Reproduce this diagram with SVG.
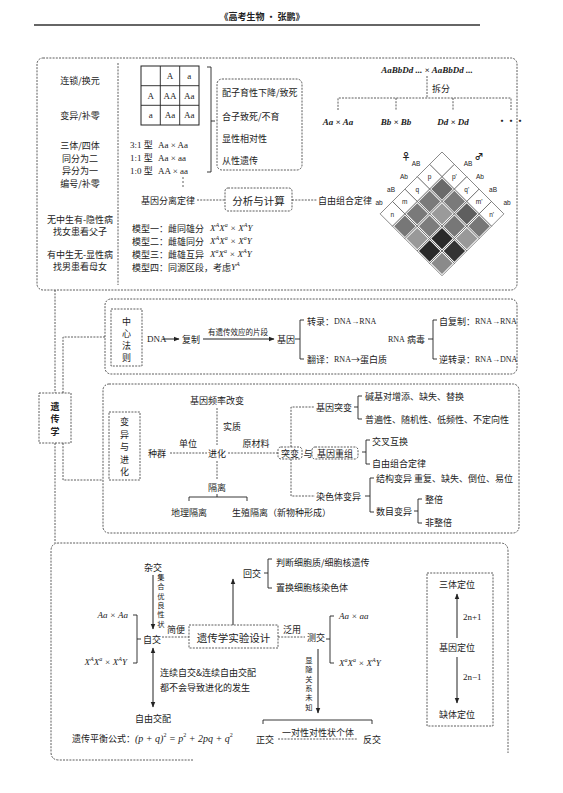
<svg xmlns="http://www.w3.org/2000/svg" width="563" height="793" viewBox="0 0 563 793">
<style>
text { font-family: "Noto Sans CJK SC", "Noto Sans", sans-serif; font-size: 9px; fill: #222; dominant-baseline: central; }
.c { text-anchor: middle; }
.e { text-anchor: end; }
.m { font-family: "Liberation Serif", "Noto Sans CJK SC", serif; font-style: italic; }
.r { font-family: "Liberation Serif", "Noto Sans CJK SC", serif; }
.sm { font-size: 7.5px; }
.big { font-size: 10.5px; }
.d { fill: none; stroke: #333; stroke-width: 0.8; stroke-dasharray: 2 1.2; }
.s { fill: none; stroke: #222; stroke-width: 0.9; }
.a { fill: none; stroke: #222; stroke-width: 1; marker-end: url(#ah); }
.a2 { fill: none; stroke: #222; stroke-width: 1; marker-end: url(#ah); marker-start: url(#ah); }
.cell { fill: #fff; stroke: #444; stroke-width: 0.6; }
.gl { font-family: "Liberation Sans", sans-serif; font-size: 6.5px; }
.vt { font-size: 7.3px; text-anchor: middle; }
</style>
<defs>
<marker id="ah" viewBox="0 0 10 10" refX="9" refY="5" markerWidth="6" markerHeight="6" markerUnits="userSpaceOnUse" orient="auto-start-reverse">
<path d="M0,1 L10,5 L0,9 z" fill="#222"/>
</marker>
</defs>
<rect width="563" height="793" fill="#fff"/>

<g id="header">
<text x="262" y="16" class="c" font-size="10" font-weight="bold">《高考生物 · 张鹏》</text>
<line x1="34" y1="25" x2="480" y2="25" stroke="#333" stroke-width="1.5"/>
</g>

<g id="connectors">
<path class="d" d="M55,290 V393"/>
<path class="d" d="M105,337 H63 V393"/>
<path class="d" d="M63,443 V480 H103"/>
<path class="d" d="M55,443 V543"/>
</g>

<g id="sec-top">
<rect class="d" x="37" y="58" width="480" height="232" rx="6"/>
<path class="d" d="M118,63 V285"/>
<text x="80" y="80" class="c">连锁/换元</text>
<text x="80" y="115" class="c">变异/补零</text>
<text x="80" y="145" class="c">三体/四体</text>
<text x="80" y="158" class="c">同分为二</text>
<text x="80" y="170.5" class="c">异分为一</text>
<text x="80" y="183" class="c">编号/补零</text>
<text x="80" y="219" class="c">无中生有-隐性病</text>
<text x="80" y="231.5" class="c">找女患看父子</text>
<text x="80" y="254" class="c">有中生无-显性病</text>
<text x="80" y="266.5" class="c">找男患看母女</text>

<g id="punnett">
<rect x="141" y="66" width="58" height="59" fill="none" stroke="#222" stroke-width="1"/>
<path class="s" d="M160.3,66 V125 M179.7,66 V125 M141,85.7 H199 M141,105.3 H199" stroke-width="0.7"/>
<text x="170" y="76" class="c r" font-size="7">A</text>
<text x="189.3" y="76" class="c r" font-size="7">a</text>
<text x="150.7" y="95.5" class="c r" font-size="7">A</text>
<text x="170" y="95.5" class="c r" font-size="7">AA</text>
<text x="189.3" y="95.5" class="c r" font-size="7">Aa</text>
<text x="150.7" y="115" class="c r" font-size="7">a</text>
<text x="170" y="115" class="c r" font-size="7">Aa</text>
<text x="189.3" y="115" class="c r" font-size="7">Aa</text>
</g>
<text x="130" y="145" class="r">3:1 型</text>
<text x="158" y="145" class="r" font-size="9.5">Aa  ×  Aa</text>
<text x="130" y="158" class="r">1:1 型</text>
<text x="158" y="158" class="r" font-size="9.5">Aa  ×  aa</text>
<text x="130" y="171" class="r">1:0 型</text>
<text x="158" y="171" class="r" font-size="9.5">AA  ×  aa</text>
<circle cx="183" cy="178" r="0.7" fill="#222"/>
<circle cx="183" cy="182" r="0.7" fill="#222"/>
<circle cx="183" cy="186" r="0.7" fill="#222"/>
<path class="s" d="M207,67 H211 V172 H207 M211,121 H215"/>
<g id="special-box">
<rect class="d" x="217" y="79" width="85" height="91" rx="5"/>
<text x="222" y="92">配子育性下降/致死</text>
<text x="222" y="116">合子致死/不育</text>
<text x="222" y="138">显性相对性</text>
<text x="222" y="160">从性遗传</text>
</g>
<text x="168" y="200" class="c">基因分离定律</text>
<path class="d" d="M197,200 H225"/>
<g id="analysis">
<rect class="d" x="225" y="188" width="67" height="23" rx="3"/>
<text x="258.5" y="200" class="c big">分析与计算</text>
</g>
<path class="d" d="M292,200 H317"/>
<text x="318" y="200">自由组合定律</text>

<text x="132" y="228">模型一：雌同雄分</text>
<text x="210" y="228" class="m">X<tspan dy="-3" font-size="6">A</tspan><tspan dy="3">X</tspan><tspan dy="-3" font-size="6">a</tspan><tspan dy="3"> × X</tspan><tspan dy="-3" font-size="6">A</tspan><tspan dy="3">Y</tspan></text>
<text x="132" y="241">模型二：雌雄同分</text>
<text x="210" y="241" class="m">X<tspan dy="-3" font-size="6">A</tspan><tspan dy="3">X</tspan><tspan dy="-3" font-size="6">a</tspan><tspan dy="3"> × X</tspan><tspan dy="-3" font-size="6">a</tspan><tspan dy="3">Y</tspan></text>
<text x="132" y="254">模型三：雌雄互异</text>
<text x="210" y="254" class="m">X<tspan dy="-3" font-size="6">a</tspan><tspan dy="3">X</tspan><tspan dy="-3" font-size="6">a</tspan><tspan dy="3"> × X</tspan><tspan dy="-3" font-size="6">A</tspan><tspan dy="3">Y</tspan></text>
<text x="132" y="267">模型四：同源区段，考虑<tspan class="m">Y</tspan><tspan class="m" dy="-3" font-size="6">A</tspan></text>

<g id="split">
<text x="427" y="70" class="c m" font-weight="bold" font-size="10">AaBbDd ... × AaBbDd ...</text>
<path class="d" d="M427,76 V98 M338,110 V98 H511 V110 M396,98 V110 M453,98 V110"/>
<text x="432" y="88" font-size="8">拆分</text>
<text x="338" y="122" class="c m" font-weight="bold" font-size="10">Aa × Aa</text>
<text x="396" y="122" class="c m" font-weight="bold" font-size="10">Bb × Bb</text>
<text x="453" y="122" class="c m" font-weight="bold" font-size="10">Dd × Dd</text>
<text x="511" y="120" class="c" font-weight="bold">···</text>
</g>

<g id="diamond">
<g transform="translate(442,152) rotate(45)">
<rect class="cell" x="0" y="0" width="17.5" height="17.5"/>
<rect class="cell" x="17.5" y="0" width="17.5" height="17.5"/>
<rect class="cell" x="35" y="0" width="17.5" height="17.5"/>
<rect class="cell" x="52.5" y="0" width="17.5" height="17.5"/>
<rect class="cell" x="70" y="0" width="17.5" height="17.5"/>
<rect class="cell" x="0" y="17.5" width="17.5" height="17.5"/>
<rect class="cell" x="0" y="35" width="17.5" height="17.5"/>
<rect class="cell" x="0" y="52.5" width="17.5" height="17.5"/>
<rect class="cell" x="0" y="70" width="17.5" height="17.5"/>
<rect class="cell" x="17.5" y="17.5" width="17.5" height="17.5"/>
<rect class="cell" x="35" y="17.5" width="17.5" height="17.5"/>
<rect class="cell" x="52.5" y="17.5" width="17.5" height="17.5"/>
<rect class="cell" x="70" y="17.5" width="17.5" height="17.5"/>
<rect class="cell" x="17.5" y="35" width="17.5" height="17.5"/>
<rect class="cell" x="35" y="35" width="17.5" height="17.5"/>
<rect class="cell" x="52.5" y="35" width="17.5" height="17.5"/>
<rect class="cell" x="70" y="35" width="17.5" height="17.5"/>
<rect class="cell" x="17.5" y="52.5" width="17.5" height="17.5"/>
<rect class="cell" x="35" y="52.5" width="17.5" height="17.5"/>
<rect class="cell" x="52.5" y="52.5" width="17.5" height="17.5"/>
<rect class="cell" x="70" y="52.5" width="17.5" height="17.5"/>
<rect class="cell" x="17.5" y="70" width="17.5" height="17.5"/>
<rect class="cell" x="35" y="70" width="17.5" height="17.5"/>
<rect class="cell" x="52.5" y="70" width="17.5" height="17.5"/>
<rect class="cell" x="70" y="70" width="17.5" height="17.5"/>
<rect x="18.7" y="18.7" width="15.1" height="15.1" fill="#6a6a6a"/>
<rect x="36.2" y="18.7" width="15.1" height="15.1" fill="#7a7a7a"/>
<rect x="53.7" y="18.7" width="15.1" height="15.1" fill="#5f5f5f"/>
<rect x="71.2" y="18.7" width="15.1" height="15.1" fill="#777"/>
<rect x="18.7" y="36.2" width="15.1" height="15.1" fill="#7a7a7a"/>
<rect x="36.2" y="36.2" width="15.1" height="15.1" fill="#9a9a9a"/>
<rect x="53.7" y="36.2" width="15.1" height="15.1" fill="#777"/>
<rect x="71.2" y="36.2" width="15.1" height="15.1" fill="#999"/>
<rect x="18.7" y="53.7" width="15.1" height="15.1" fill="#7a7a7a"/>
<rect x="36.2" y="53.7" width="15.1" height="15.1" fill="#7d7d7d"/>
<rect x="53.7" y="53.7" width="15.1" height="15.1" fill="#2a2a2a"/>
<rect x="71.2" y="53.7" width="15.1" height="15.1" fill="#333"/>
<rect x="18.7" y="71.2" width="15.1" height="15.1" fill="#777"/>
<rect x="36.2" y="71.2" width="15.1" height="15.1" fill="#999"/>
<rect x="53.7" y="71.2" width="15.1" height="15.1" fill="#2a2a2a"/>
<rect x="71.2" y="71.2" width="15.1" height="15.1" fill="#8a8a8a"/>
</g>
<text x="429.6" y="176.8" class="c gl">p</text>
<text x="417.2" y="189.2" class="c gl">q</text>
<text x="404.8" y="201.6" class="c gl">m</text>
<text x="392.4" y="214" class="c gl">n</text>
<text x="454.4" y="176.8" class="c gl">p'</text>
<text x="466.8" y="189.2" class="c gl">q'</text>
<text x="479.2" y="201.6" class="c gl">m'</text>
<text x="491.6" y="214" class="c gl">n'</text>
<text x="416" y="163" class="c gl">AB</text>
<text x="404" y="176" class="c gl">Ab</text>
<text x="391" y="189" class="c gl">aB</text>
<text x="379" y="202" class="c gl">ab</text>
<text x="468" y="163" class="c gl">AB</text>
<text x="480" y="176" class="c gl">Ab</text>
<text x="493" y="189" class="c gl">aB</text>
<text x="507" y="202" class="c gl">ab</text>
<text x="406" y="156" class="c" font-size="10" font-weight="bold">♀</text>
<text x="479" y="156" class="c" font-size="10" font-weight="bold">♂</text>
</g>
</g>

<g id="sec-central">
<rect class="d" x="105" y="299" width="412" height="75" rx="6"/>
<rect class="d" x="111" y="309" width="31" height="57"/>
<text class="c" font-size="11"><tspan x="126.5" y="321">中</tspan><tspan x="126.5" y="333">心</tspan><tspan x="126.5" y="345">法</tspan><tspan x="126.5" y="357">则</tspan></text>
<text x="147" y="339" class="r" font-size="8">DNA</text>
<path class="a" d="M163,339 H179"/>
<text x="182" y="339">复制</text>
<path class="a" d="M203,339 H274"/>
<text x="238" y="331" class="c sm">有遗传效应的片段</text>
<text x="277" y="339">基因</text>
<path class="s" d="M295,339 H300 M304,320 H300 V359 H304"/>
<text x="307" y="321">转录：<tspan class="r" font-size="8">DNA→RNA</tspan></text>
<text x="307" y="359">翻译：<tspan class="r" font-size="8">RNA</tspan>→蛋白质</text>
<text x="388" y="339"><tspan class="r" font-size="8">RNA</tspan> 病毒</text>
<path class="s" d="M428,339 H433 M437,320 H433 V359 H437"/>
<text x="439" y="321">自复制：<tspan class="r" font-size="8">RNA→RNA</tspan></text>
<text x="439" y="359">逆转录：<tspan class="r" font-size="8">RNA→DNA</tspan></text>
</g>

<g id="genetics">
<rect class="d" x="39" y="393" width="32" height="50"/>
<text class="c" font-size="12" font-weight="bold"><tspan x="55" y="405.5">遗</tspan><tspan x="55" y="418">传</tspan><tspan x="55" y="430.5">学</tspan></text>
</g>

<g id="sec-evolution">
<rect class="d" x="103" y="384" width="416" height="149" rx="6"/>
<rect class="d" x="109" y="412" width="31" height="68"/>
<text class="c" font-size="11"><tspan x="124.5" y="421">变</tspan><tspan x="124.5" y="433.5">异</tspan><tspan x="124.5" y="446">与</tspan><tspan x="124.5" y="458.5">进</tspan><tspan x="124.5" y="471">化</tspan></text>
<text x="217" y="400" class="c">基因频率改变</text>
<path class="d" d="M217,408 V445"/>
<text x="223" y="426" font-size="8">实质</text>
<text x="157" y="453" class="c">种群</text>
<path class="d" d="M170,453 H207"/>
<text x="188" y="443" class="c" font-size="8">单位</text>
<text x="217" y="453" class="c">进化</text>
<path class="d" d="M228,453 H278"/>
<text x="256" y="443" class="c" font-size="8">原材料</text>
<rect class="d" x="278" y="447" width="24" height="12" rx="3"/>
<text x="290" y="453" class="c">突变</text>
<text x="308" y="453" class="c">与</text>
<rect class="d" x="312" y="447" width="46" height="12" rx="3"/>
<text x="335" y="453" class="c">基因重组</text>
<path class="s" d="M362,452 H366 M370,440 H366 V464 H370"/>
<text x="372" y="441">交叉互换</text>
<text x="372" y="463">自由组合定律</text>
<path class="d" d="M291,447 V407 H315"/>
<text x="316" y="407">基因突变</text>
<path class="s" d="M354,407 H358 M362,396 H358 V419 H362"/>
<text x="365" y="396">碱基对增添、缺失、替换</text>
<text x="365" y="419">普遍性、随机性、低频性、不定向性</text>
<path class="d" d="M291,459 V496 H315"/>
<text x="316" y="496">染色体变异</text>
<path class="s" d="M365,496 H370 M374,478 H370 V512 H374"/>
<text x="376" y="478">结构变异  重复、缺失、倒位、易位</text>
<text x="376" y="511">数目变异</text>
<path class="s" d="M414,511 H418 M422,499 H418 V523 H422"/>
<text x="425" y="499">整倍</text>
<text x="425" y="522">非整倍</text>
<path class="d" d="M217,461 V479"/>
<text x="217" y="487" class="c">隔离</text>
<path class="s" d="M189,501 V497 H247 V501 M217,497 V494"/>
<text x="189" y="512" class="c">地理隔离</text>
<text x="232" y="512">生殖隔离（新物种形成）</text>
</g>

<g id="sec-experiment">
<path class="d" d="M193,760 H59 Q51,760 51,752 V551 Q51,543 59,543 H500 Q508,543 508,551 V753"/>
<text x="153" y="567" class="c">杂交</text>
<path class="a" d="M153,575 V629"/>
<text class="vt"><tspan x="161" y="577">集</tspan><tspan x="161" y="586.3">合</tspan><tspan x="161" y="595.6">优</tspan><tspan x="161" y="604.9">良</tspan><tspan x="161" y="614.2">性</tspan><tspan x="161" y="623.5">状</tspan></text>
<text x="128" y="615" class="e m" font-size="10">Aa × Aa</text>
<text x="127" y="662" class="e m" font-size="10">X<tspan dy="-3" font-size="6">A</tspan><tspan dy="3">X</tspan><tspan dy="-3" font-size="6">a</tspan><tspan dy="3"> × X</tspan><tspan dy="-3" font-size="6">A</tspan><tspan dy="3">Y</tspan></text>
<path class="s" d="M133,615 H137 V663 H133 M137,639 H141"/>
<text x="152" y="639" class="c">自交</text>
<path class="a2" d="M153,648 V707"/>
<text x="160" y="672" font-size="8">连续自交&amp;连续自由交配</text>
<text x="160" y="687" font-size="8">都不会导致进化的发生</text>
<text x="153" y="718" class="c">自由交配</text>
<text x="72" y="738">遗传平衡公式：<tspan class="m" font-size="10">(p + q)</tspan><tspan class="r" dy="-3" font-size="6">2</tspan><tspan class="m" dy="3" font-size="10"> = p</tspan><tspan class="r" dy="-3" font-size="6">2</tspan><tspan class="m" dy="3" font-size="10"> + 2pq + q</tspan><tspan class="r" dy="-3" font-size="6">2</tspan></text>
<path class="d" d="M162,637 H189"/>
<text x="176" y="629" class="c" font-size="8">简便</text>
<g id="design">
<rect class="d" x="189" y="625" width="89" height="23"/>
<text x="233.5" y="637" class="c big">遗传学实验设计</text>
</g>
<path class="a" d="M233,625 V579"/>
<text x="243" y="573">回交</text>
<path class="s" d="M264,573 H268 M272,559 H268 V588 H272"/>
<text x="276" y="562">判断细胞质/细胞核遗传</text>
<text x="276" y="587">置换细胞核染色体</text>
<path class="d" d="M278,637 H305"/>
<text x="292" y="629" class="c" font-size="8">泛用</text>
<text x="316" y="637" class="c">测交</text>
<path class="s" d="M326,639 H330 M334,616 H330 V663 H334"/>
<text x="339" y="616" class="m" font-size="10">Aa × aa</text>
<text x="339" y="663" class="m" font-size="10">X<tspan dy="-3" font-size="6">a</tspan><tspan dy="3">X</tspan><tspan dy="-3" font-size="6">a</tspan><tspan dy="3"> × X</tspan><tspan dy="-3" font-size="6">A</tspan><tspan dy="3">Y</tspan></text>
<path class="a" d="M318,649 V713"/>
<text class="vt"><tspan x="309" y="660">显</tspan><tspan x="309" y="669.3">隐</tspan><tspan x="309" y="678.6">关</tspan><tspan x="309" y="687.9">系</tspan><tspan x="309" y="697.2">未</tspan><tspan x="309" y="706.5">知</tspan></text>
<path class="s" d="M263,724 V720 H372 V724"/>
<text x="265" y="739" class="c">正交</text>
<path class="d" d="M278,739 H358"/>
<text x="318" y="732" class="c" font-size="8">一对性对性状个体</text>
<text x="372" y="739" class="c">反交</text>
<g id="locate">
<rect class="d" x="427" y="573" width="66" height="153"/>
<text x="457" y="584" class="c">三体定位</text>
<path class="a" d="M457,638 V594"/>
<text x="463" y="617" class="r" font-size="7">2n+1</text>
<text x="457" y="647" class="c">基因定位</text>
<path class="a" d="M457,657 V703"/>
<text x="463" y="677" class="r" font-size="7">2n−1</text>
<text x="457" y="714" class="c">缺体定位</text>
</g>
</g>
</svg>
